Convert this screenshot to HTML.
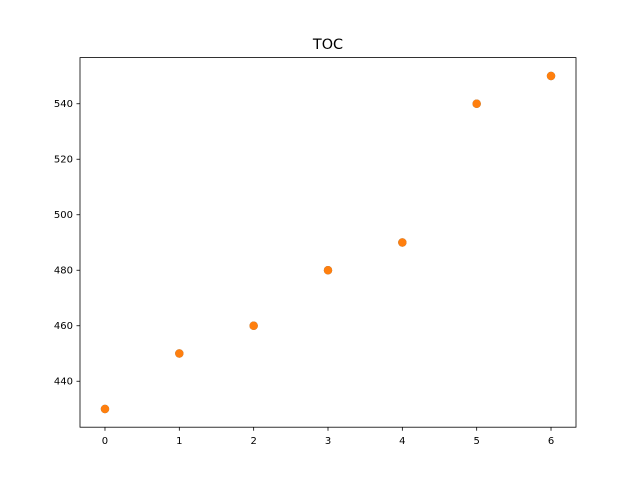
<!DOCTYPE html>
<html><head><meta charset="utf-8"><style>body{margin:0;background:#fff}svg{display:block;font-family:"DejaVu Sans","Liberation Sans",sans-serif}</style></head>
<body>
<svg id="chart" width="640" height="480">
<rect width="640" height="480" fill="#fff"/>
<text x="328" y="49" font-size="14.4" text-anchor="middle">TOC</text>
<g id="plot"></g>
<rect x="80" y="57.6" width="496" height="369.6" fill="none" stroke="#000" stroke-width="0.8"/>
</svg>
<script>
const categories=[0,1,2,3,4,5,6];
const seriesA=[430,450,460,480,490,540,550];
const seriesB=[430,450,460,480,490,540,550];
const xTicks=[0,1,2,3,4,5,6];
const yTicks=[440,460,480,500,520,540];
const L=80,R=576,T=57.6,B=427.2;
const xmin=-0.336,xmax=6.336,ymin=423.44,ymax=556.63;
const sx=v=>L+(v-xmin)/(xmax-xmin)*(R-L);
const sy=v=>B-(v-ymin)/(ymax-ymin)*(B-T);
const g=document.getElementById('plot');
const NS='http://www.w3.org/2000/svg';
function mk(t,a){const e=document.createElementNS(NS,t);for(const k in a)e.setAttribute(k,a[k]);g.appendChild(e);return e;}
xTicks.forEach(v=>{
 const l=mk('line',{x1:sx(v),x2:sx(v),y1:B,y2:B+3.5,stroke:'#000','stroke-width':0.8});
 
 
 const t=mk('text',{x:sx(v),y:B+17,'font-size':10,'text-anchor':'middle'});t.textContent=v;
 
 
});
yTicks.forEach(v=>{
 const l=mk('line',{x1:L-3.5,x2:L,y1:sy(v),y2:sy(v),stroke:'#000','stroke-width':0.8});
 
 
 const t=mk('text',{x:L-7,y:sy(v)+3.5,'font-size':10,'text-anchor':'end'});t.textContent=v;
 
 
});
categories.forEach((c,i)=>{
 const p=mk('circle',{cx:sx(c),cy:sy(seriesA[i]),r:4.2,fill:'#1f77b4'});
 
 
});
categories.forEach((c,i)=>{
 const p=mk('circle',{cx:sx(c),cy:sy(seriesB[i]),r:4.2,fill:'#ff7f0e'});
 
 
});
</script>
</body></html>
